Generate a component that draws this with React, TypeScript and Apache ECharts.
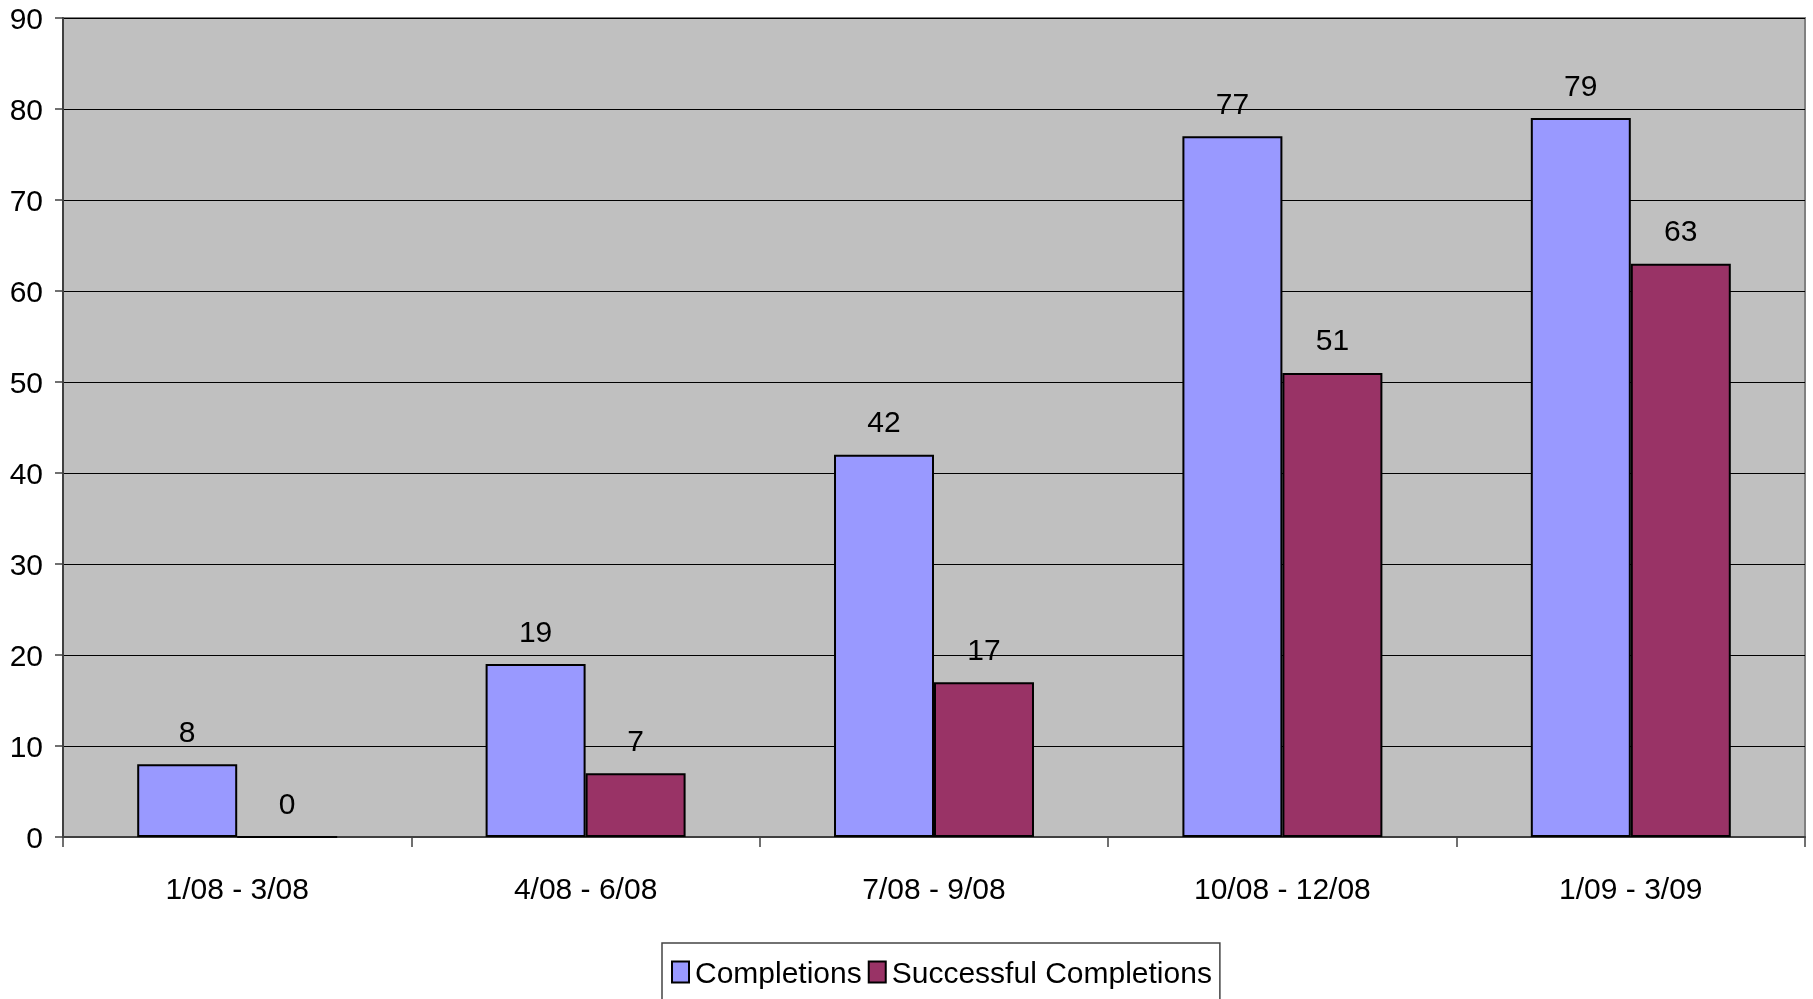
import React, { useEffect, useRef } from "react";
import * as echarts from "echarts";

const categories = ["1/08 - 3/08", "4/08 - 6/08", "7/08 - 9/08", "10/08 - 12/08", "1/09 - 3/09"];
const completions = [8, 19, 42, 77, 79];
const successful = [0, 7, 17, 51, 63];
const seriesNames = ["Completions", "Successful Completions"];

const FONT = "'Liberation Sans Narrow', 'Arial Narrow', 'Liberation Sans', Arial, sans-serif";
const FS = 30;

export default function App() {
  const ref = useRef<HTMLDivElement>(null);
  useEffect(() => {
    if (!ref.current) return;
    const chart = echarts.init(ref.current, undefined, { renderer: "svg" });
    const labelCfg = {
      show: true,
      position: "top" as const,
      distance: 18,
      color: "#000",
      fontSize: FS,
      fontFamily: FONT,
    };
    chart.setOption({
      animation: false,
      textStyle: { fontFamily: FONT },
      grid: {
        left: 63,
        right: 8,
        top: 18,
        bottom: 162,
        show: true,
        backgroundColor: "#C0C0C0",
        borderColor: "#808080",
        borderWidth: 2,
      },
      legend: {
        left: 662,
        top: 943,
        padding: [14, 8, 14, 9],
        borderColor: "#444",
        borderWidth: 1.5,
        icon: "rect",
        itemWidth: 17,
        itemHeight: 21,
        itemGap: 6,
        textStyle: { fontSize: FS, fontFamily: FONT, color: "#000", padding: [0, 0, 0, 1] },
        data: seriesNames.map((n) => ({ name: n, itemStyle: { borderColor: "#000", borderWidth: 2 } })),
      },
      xAxis: {
        type: "category",
        data: categories,
        axisLine: { lineStyle: { color: "#404040", width: 2 } },
        axisTick: { show: true, length: 10, lineStyle: { color: "#404040", width: 1.5 } },
        axisLabel: { color: "#000", fontSize: FS, fontFamily: FONT, margin: 36 },
        splitLine: { show: false },
      },
      yAxis: {
        type: "value",
        min: 0,
        max: 90,
        interval: 10,
        axisLine: { show: true, lineStyle: { color: "#404040", width: 2 } },
        axisTick: { show: true, length: 8, lineStyle: { color: "#404040", width: 1.5 } },
        axisLabel: { color: "#000", fontSize: FS, fontFamily: FONT, margin: 20 },
        splitLine: { show: true, lineStyle: { color: "#000", width: 1 } },
      },
      series: [
        {
          name: seriesNames[0],
          type: "bar",
          data: completions,
          barGap: "0%",
          barCategoryGap: "42.6%",
          itemStyle: { color: "#9999FF", borderColor: "#000", borderWidth: 2 },
          label: labelCfg,
        },
        {
          name: seriesNames[1],
          type: "bar",
          data: successful,
          barGap: "0%",
          barCategoryGap: "42.6%",
          itemStyle: { color: "#993366", borderColor: "#000", borderWidth: 2 },
          label: labelCfg,
        },
      ],
    });
    return () => chart.dispose();
  }, []);
  return (
    <div
      ref={ref}
      style={{ position: "fixed", left: 0, top: 0, width: 1813, height: 999 }}
    />
  );
}
